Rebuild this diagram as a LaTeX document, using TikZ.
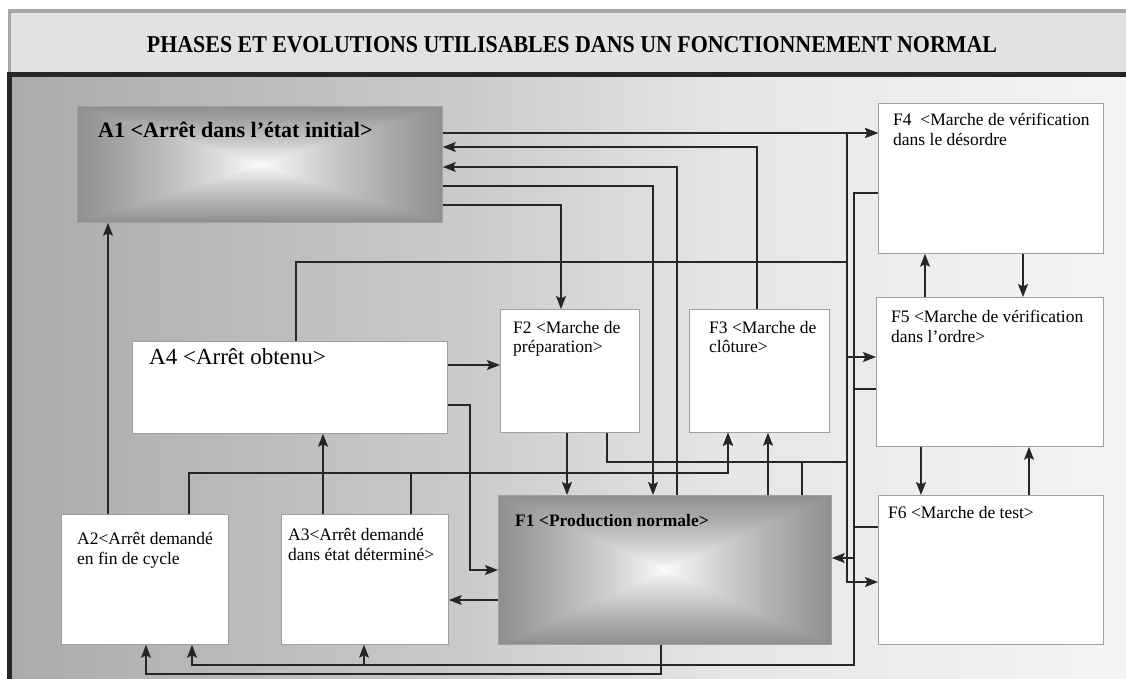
\documentclass[tikz,border=0pt]{standalone}
\usepackage{fontspec}
\setmainfont{Liberation Serif}
\usepackage{graphicx}
\usetikzlibrary{arrows.meta}

\definecolor{bandeau}{RGB}{224,226,228}
\definecolor{trait}{RGB}{38,38,38}

% fond de la zone principale : sombre a gauche, clair a droite
\pgfdeclarehorizontalshading{fond}{100bp}{color(0bp)=(gray!66); color(25bp)=(gray!66); color(45bp)=(gray!42); color(57bp)=(gray!20); color(75bp)=(gray!8); color(100bp)=(gray!8)}
% degrade "carre" : blanc au centre, gris sur les bords
\pgfdeclarefunctionalshading{carre}{\pgfpoint{-50bp}{-50bp}}{\pgfpoint{50bp}{50bp}}{}{%
  abs exch abs 2 copy lt {exch} if pop 25 div dup 1 gt {pop 1} if 0.8 exp 0.44 mul 1 exch sub dup dup}

\tikzset{
	>={Stealth[length=13pt, width=10pt, inset=2.5pt]}, % pointes pleines
	boite/.style={draw=gray!75, line width=0.8pt, anchor=north west, inner sep=0pt}, % cadre d'une phase
	blanc/.style={boite, fill=white},
	degrade/.style={boite, shade, shading=carre},
	texte/.style={anchor=base west, inner sep=0pt, align=left, font=\fontsize{17.5}{19.5}\selectfont}, % base = derniere ligne
	lien/.style={draw=trait, line width=1.2pt, ->}, % evolution entre phases
}

\begin{document}
\begin{tikzpicture}[x=1pt, y=-1pt]
	\useasboundingbox (0,0) rectangle (1126,678);
	\fill[white] (0,0) rectangle (1126,678);
	% cadre et bandeau du titre
	\shade[shading=fond] (9.5,74.5) rectangle (1126,678);
	\fill[bandeau] (9.5,11) rectangle (1126,74.5);
	\draw[gray!70, line width=3.5pt] (9.5,74) -- (9.5,11) -- (1130,11);
	\draw[black!85, line width=5pt] (9.5,682) -- (9.5,74.5) -- (1130,74.5);
	\node[inner sep=0pt, font=\bfseries] (titre) at (572,45) {\resizebox{850pt}{16pt}{PHASES ET EVOLUTIONS UTILISABLES DANS UN FONCTIONNEMENT NORMAL}};

	% phases
	\node[degrade, minimum width=365pt, minimum height=116pt] (A1) at (77,106) {};
	\node[blanc, minimum width=315pt, minimum height=92pt] (A4) at (132,341) {};
	\node[blanc, minimum width=167pt, minimum height=130pt] (A2) at (61,514) {};
	\node[blanc, minimum width=167pt, minimum height=130pt] (A3) at (281,514) {};
	\node[degrade, minimum width=333pt, minimum height=149pt] (F1) at (498,495) {};
	\node[blanc, minimum width=139pt, minimum height=123pt] (F2) at (500,309) {};
	\node[blanc, minimum width=140pt, minimum height=123pt] (F3) at (689,309) {};
	\node[blanc, minimum width=225pt, minimum height=150pt] (F4) at (878,103) {};
	\node[blanc, minimum width=227pt, minimum height=149pt] (F5) at (876,297) {};
	\node[blanc, minimum width=225pt, minimum height=149pt] (F6) at (878,495) {};

	% libelles
	\node[texte, font=\bfseries\fontsize{22}{24}\selectfont] (A1t) at ([xshift=21pt, yshift=-31pt]A1.north west) {A1 <Arrêt dans l'état initial>};
	\node[texte, font=\fontsize{23}{25}\selectfont] (A4t) at ([xshift=17pt, yshift=-23pt]A4.north west) {A4 <Arrêt obtenu>};
	\node[texte] (A2t) at ([xshift=16pt, yshift=-50pt]A2.north west) {A2<Arrêt demandé\\en fin de cycle};
	\node[texte] (A3t) at ([xshift=7pt, yshift=-46pt]A3.north west) {A3<Arrêt demandé\\dans état déterminé>};
	\node[texte, font=\bfseries\fontsize{17.5}{19.5}\selectfont] (F1t) at ([xshift=17pt, yshift=-31pt]F1.north west) {F1 <Production normale>};
	\node[texte] (F2t) at ([xshift=13pt, yshift=-43.5pt]F2.north west) {F2 <Marche de\\préparation>};
	\node[texte] (F3t) at ([xshift=20pt, yshift=-43.5pt]F3.north west) {F3 <Marche de\\clôture>};
	\node[texte] (F4t) at ([xshift=15pt, yshift=-42pt]F4.north west) {F4~ <Marche de vérification\\dans le désordre};
	\node[texte] (F5t) at ([xshift=15pt, yshift=-45pt]F5.north west) {F5 <Marche de vérification\\dans l'ordre>};
	\node[texte] (F6t) at ([xshift=10pt, yshift=-23pt]F6.north west) {F6 <Marche de test>};

	% evolutions depuis A1 et vers A1
	\draw[lien] (A1.east |- 0,133) -- (F4.west |- 0,133);
	\draw[lien] (A1.east |- 0,205) -| (F2.north -| 561,0);
	\draw[lien] (A1.east |- 0,186) -| (F1.north -| 653,0);
	\draw[lien] (F1.north -| 677,0) |- (A1.east |- 0,167);
	\draw[lien] (F3.north -| 757,0) |- (A1.east |- 0,147);
	\draw[lien] (A2.north -| 108,0) -- (A1.south -| 108,0);

	% vers les marches de verification et de test
	\draw[lien] (A4.north -| 296,0) |- (847,262) |- (F6.west |- 0,582);
	\draw[lien] (F2.south -| 607,0) |- (847,462) |- (F5.west |- 0,357);
	\draw[lien] (F1.north -| 802,0) |- (847,462) |- (F4.west |- 0,133);

	% A4, A2, A3
	\draw[lien] (A4.east |- 0,365) -- (F2.west |- 0,365);
	\draw[lien] (A4.east |- 0,405) -| (470,570) -- (F1.west |- 0,570);
	\draw[lien] (A2.north -| 189,0) |- (728,473) -- (F3.south -| 728,0);
	\draw[lien] (A3.north -| 411,0) |- (728,473) -- (F3.south -| 728,0);
	\draw[lien] (A3.north -| 323,0) -- (A4.south -| 323,0);

	% F1, F2
	\draw[lien] (F2.south -| 567,0) -- (F1.north -| 567,0);
	\draw[lien] (F1.north -| 768,0) -- (F3.south -| 768,0);
	\draw[lien] (F1.west |- 0,600) -- (A3.east |- 0,600);
	\draw[lien] (F1.south -| 661,0) |- (146,674) -- (A2.south -| 146,0);

	% F4, F5, F6
	\draw[lien] (F4.south -| 1023,0) -- (F5.north -| 1023,0);
	\draw[lien] (F5.north -| 925,0) -- (F4.south -| 925,0);
	\draw[lien] (F5.south -| 921,0) -- (F6.north -| 921,0);
	\draw[lien] (F6.north -| 1029,0) -- (F5.south -| 1029,0);
	\draw[lien] (F4.west |- 0,193) -| (854,558) -- (F1.east |- 0,558);
	\draw[lien] (F5.west |- 0,389) -| (854,665) -| (A3.south -| 364,0);
	\draw[lien] (F6.west |- 0,527) -| (854,665) -| (A2.south -| 192,0);
\end{tikzpicture}
\end{document}
